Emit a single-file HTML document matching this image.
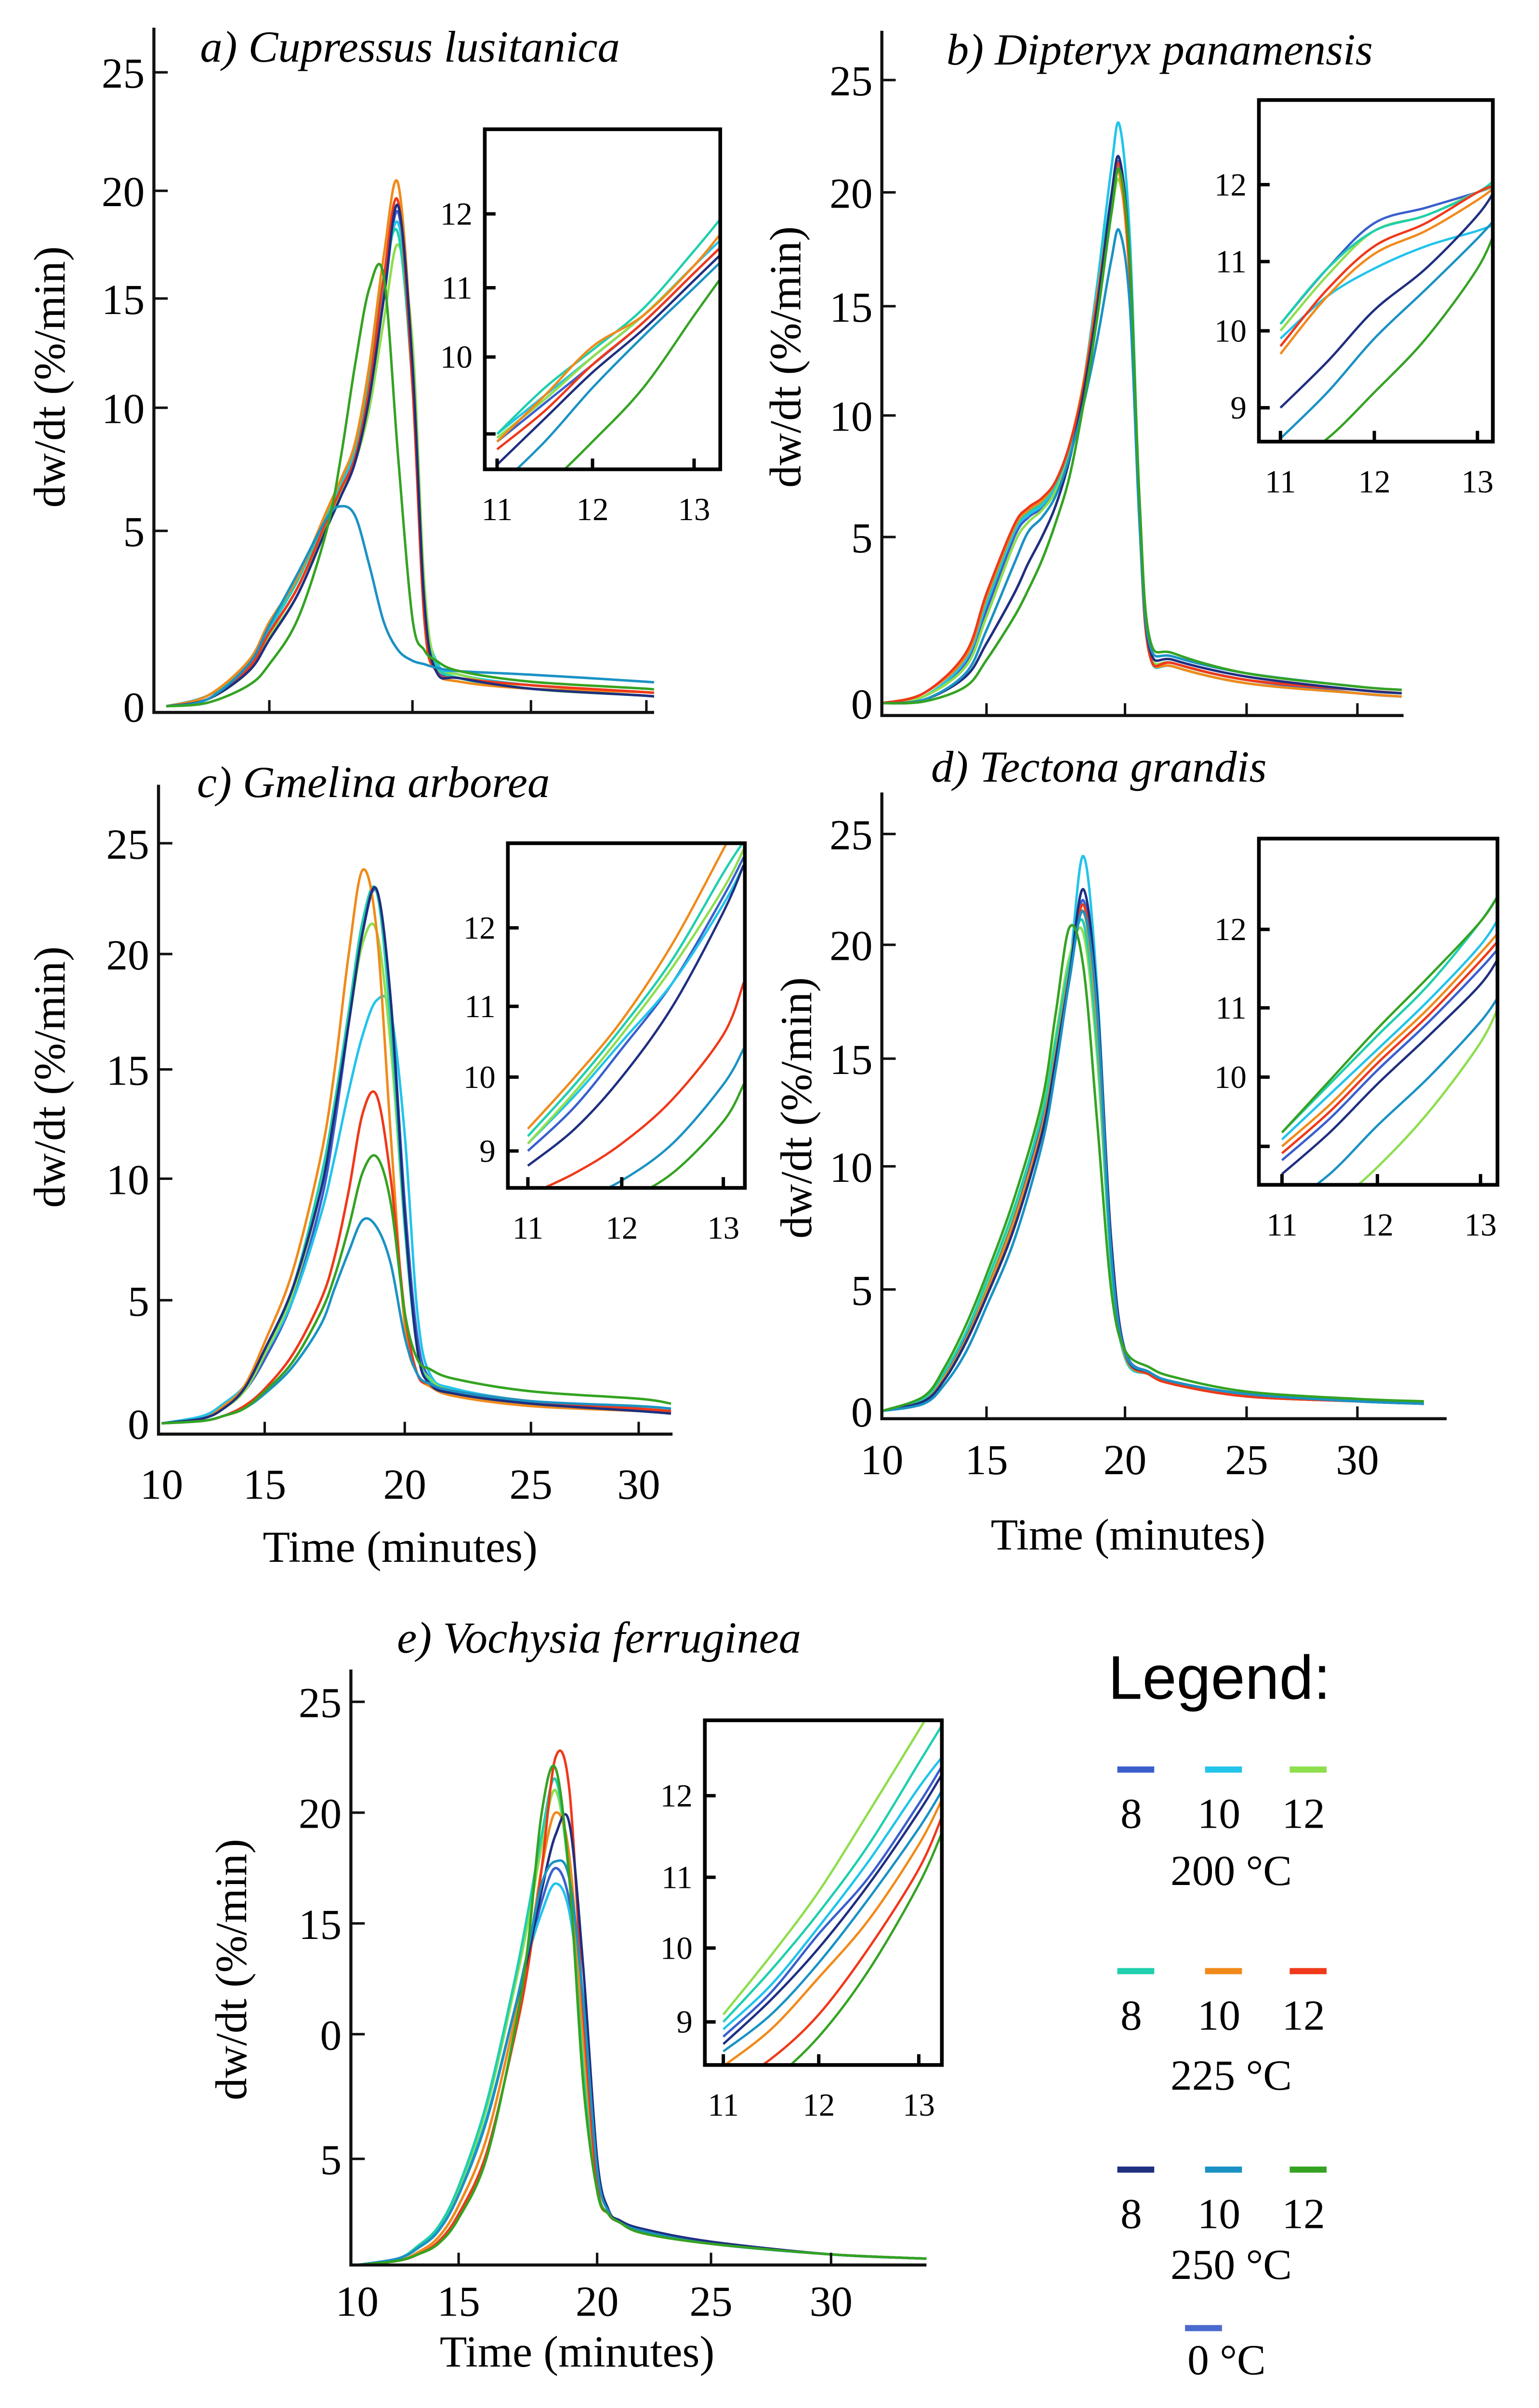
<!DOCTYPE html>
<html><head><meta charset="utf-8"><style>
html,body{margin:0;padding:0;background:#fff;width:3195px;height:5037px;overflow:hidden;}
svg{display:block;}
text{font-family:"Liberation Serif",serif;fill:#000;}
</style></head><body>
<svg id="fig" xmlns="http://www.w3.org/2000/svg" width="3195" height="5037" viewBox="0 0 1000 1576.5" preserveAspectRatio="none">
<rect width="1000" height="1576.5" fill="#fff"/>
</svg>
<script>
// ---- series metadata ----
const seriesNames = ['s8_200','s10_200','s12_200','s8_225','s10_225','s12_225','s8_250','s10_250','s12_250'];
const seriesColors = ['#3a5fcd','#22c4ea','#8ede4e','#1fcfae','#f08a1a','#f0381a','#1f2f80','#1a92c4','#34a322'];

// ---- panel a ----
const aTimes = [10,12,14,15,16,17,17.5,18,18.5,19,19.5,20,20.5,21,22,25,30,31.5];
const aSeries = [
[0,0.3,1.1,2.1,3.4,5.4,6.7,8.0,10.5,15,19,12,3,1.1,0.8,0.5,0.3,0.2],
[0,0.3,1.2,2.2,3.6,5.6,6.9,8.3,11,15.5,18.5,12.5,3.2,1.3,0.9,0.6,0.4,0.3],
[0,0.2,1.0,2.0,3.2,5.2,6.5,7.8,10,14,17.5,13,3.5,1.2,0.9,0.5,0.3,0.2],
[0,0.3,1.2,2.3,3.6,5.7,7.0,8.5,11.5,16,18,11,2.8,1.2,0.8,0.5,0.3,0.2],
[0,0.3,1.3,2.4,3.7,5.8,7.1,8.6,12,17,20.3,12,2.5,1.0,0.7,0.5,0.4,0.3],
[0,0.2,1.1,2.1,3.4,5.4,6.7,8.0,11,16,19.5,11,2.5,1.0,0.8,0.6,0.4,0.3],
[0,0.2,1.0,1.9,3.2,5.1,6.4,7.8,10.5,15,19.3,12,3,1.0,0.8,0.5,0.3,0.2],
[0,0.2,1.2,2.3,3.8,5.5,6.0,5.6,4.0,2.4,1.6,1.3,1.2,1.1,1.0,0.9,0.7,0.6],
[0,0.1,0.6,1.2,2.5,5.0,8,12,15.5,16,8,2.5,1.6,1.3,1.0,0.7,0.5,0.4]];
const aInsetTimes = [11,11.5,12,12.5,13,13.3];
const aInset = [
[8.9,9.4,9.9,10.5,11.2,11.6],[9.0,9.5,10.0,10.6,11.3,11.7],[8.95,9.45,10.0,10.6,11.3,11.8],
[9.0,9.6,10.1,10.7,11.5,12.0],[8.9,9.5,10.15,10.6,11.3,11.8],[8.8,9.3,9.9,10.5,11.2,11.6],
[8.6,9.2,9.8,10.4,11.1,11.5],[8.3,8.9,9.6,10.3,11.0,11.4],[7.8,8.3,8.9,9.6,10.6,11.2]];

// ---- panel b ----
const bTimes = [10,12,14,15,16,16.5,17,17.5,18,18.5,19,19.5,19.8,20.2,20.6,21,22,25,30,32];
const bSeries = [
[0,0.2,1.2,2.8,5.0,5.8,6.2,7,8.5,11,15,19.5,21.3,17,6,1.6,1.2,0.7,0.3,0.2],
[0,0.2,1.3,3.0,5.2,5.9,6.3,7.1,8.6,11.5,16,21,23,18,6,1.5,1.1,0.6,0.3,0.2],
[0,0.2,1.1,2.6,4.8,5.6,6.1,6.9,8.4,11,15,19,20.5,16.5,6,1.6,1.2,0.7,0.4,0.3],
[0,0.3,1.4,3.1,5.3,6.0,6.4,7.2,8.7,11.2,15.5,19.8,21,16.5,5.5,1.5,1.1,0.6,0.3,0.2],
[0,0.3,1.4,3.2,5.4,6.1,6.5,7.3,8.8,11.5,15.5,19.5,20.8,16,5.5,1.5,1.1,0.6,0.3,0.2],
[0,0.3,1.5,3.3,5.5,6.2,6.6,7.3,8.8,11.3,15.3,19.5,21.2,16.5,5.8,1.5,1.2,0.7,0.4,0.3],
[0,0.1,0.8,1.8,3.3,4.2,5.0,6.3,8.2,11,15,19.8,21.5,17,6,1.7,1.3,0.8,0.4,0.3],
[0,0.1,0.9,2.2,4.2,5.2,5.8,6.7,8.3,10.5,13.5,17,18.3,15,5.5,1.8,1.4,0.9,0.5,0.4],
[0,0.05,0.5,1.3,2.6,3.4,4.3,5.6,7.5,10.5,14.5,19,21,17,6.5,2,1.5,0.9,0.5,0.4]];
const bInsetTimes = [11,11.5,12,12.5,13,13.2];
const bInset = [
[10.1,10.9,11.5,11.7,11.9,12.0],[9.9,10.5,10.9,11.2,11.4,11.5],[10.0,10.8,11.4,11.6,11.9,12.0],
[10.1,10.9,11.4,11.6,11.9,12.1],[9.7,10.5,11.1,11.4,11.8,12.0],[9.8,10.6,11.2,11.5,11.9,12.0],
[9.0,9.6,10.3,10.9,11.6,12.0],[8.6,9.2,9.9,10.6,11.3,11.6],[8.2,8.6,9.2,9.9,10.9,11.5]];

// ---- panel c ----
const cTimes = [10,12,13,14,15,16,17,17.5,18,18.5,19,19.5,20,20.5,21,22,25,30,31.5];
const cSeries = [
[0,0.2,0.6,1.3,2.6,5,9,12.5,17,21,22.8,18,9,3.5,1.8,1.2,0.8,0.5,0.4],
[0,0.3,0.8,1.5,2.8,5,8.5,11,14,16.5,18,17.5,12,4.5,2,1.4,0.9,0.6,0.5],
[0,0.2,0.6,1.3,2.8,5.3,9.5,13,17,20.5,21,16,8,3,1.8,1.3,0.9,0.6,0.5],
[0,0.2,0.7,1.4,3.0,5.5,10,13.5,17.5,21.5,22.8,17,8,3,1.7,1.3,0.8,0.5,0.4],
[0,0.2,0.7,1.5,3.3,6.2,11,15,20,23.8,21,12,4,2,1.5,1.1,0.7,0.5,0.4],
[0,0.1,0.3,0.7,1.4,2.8,5,6.8,9.5,13,13.8,10,4.5,2,1.6,1.3,0.9,0.6,0.5],
[0,0.2,0.6,1.4,3,5.5,9.5,13,17,21,22.9,18,8.5,3,1.6,1.2,0.8,0.5,0.4],
[0,0.1,0.3,0.6,1.2,2.3,4,5.5,7,8.3,8,6.5,3.5,2,1.6,1.3,0.9,0.7,0.6],
[0,0.1,0.3,0.6,1.3,2.5,4.5,6,8,10.3,11,9,4.5,2.6,2.2,1.8,1.3,1.0,0.8]];
const cInsetTimes = [11,11.5,12,12.5,13,13.2];
const cInset = [
[9.0,9.6,10.4,11.3,12.4,12.9],[9.1,9.75,10.5,11.3,12.3,12.8],[9.1,9.8,10.6,11.5,12.5,13],
[9.2,9.9,10.7,11.6,12.7,13.1],[9.3,10.0,10.8,11.8,13.0,13.5],[8.4,8.7,9.1,9.7,10.6,11.3],
[8.8,9.3,10.0,11.0,12.2,12.8],[8.0,8.3,8.6,9.1,9.9,10.4],[7.7,8.0,8.3,8.7,9.4,9.9]];

// ---- panel d ----
const dTimes = [10,12,13,14,15,16,17,17.5,18,18.5,19,19.5,20,21,22,25,30,33];
const dSeries = [
[0,0.5,1.5,3,5,8,12,15,18.5,22,17,7,2.5,1.6,1.2,0.7,0.4,0.3],
[0,0.4,1.3,2.8,4.8,7.6,11.5,15,19,24,18,6.5,2.2,1.5,1.1,0.6,0.4,0.3],
[0,0.5,1.6,3.2,5.2,8.2,12.5,16,19.5,20.5,15,6,2.2,1.5,1.1,0.6,0.4,0.3],
[0,0.5,1.6,3.2,5.3,8.3,12.4,15.8,19.2,21,15.5,6,2.2,1.5,1.1,0.6,0.4,0.3],
[0,0.4,1.4,2.9,4.9,7.8,11.8,15.2,18.8,21.5,16.5,6.5,2.3,1.5,1.1,0.6,0.4,0.3],
[0,0.4,1.3,2.8,4.7,7.5,11.5,14.8,18.5,21.8,17,7,2.4,1.5,1.1,0.6,0.4,0.3],
[0,0.4,1.3,2.8,4.7,7.5,11.5,15,18.7,22.5,17.5,7,2.4,1.6,1.2,0.7,0.4,0.3],
[0,0.3,1.1,2.4,4.3,7,11,14.5,18.5,21.5,17,6.5,2.4,1.6,1.2,0.7,0.4,0.3],
[0,0.6,1.8,3.5,5.6,8.7,13,17,20.8,19,12,5,2.5,1.8,1.4,0.8,0.5,0.4]];
const dInsetTimes = [11,11.5,12,12.5,13,13.2];
const dInset = [
[8.8,9.4,10.1,10.8,11.5,11.8],[9.1,9.75,10.4,11.1,11.8,12.2],[7.6,8.1,8.7,9.5,10.5,11.1],
[9.2,9.9,10.6,11.3,12.1,12.5],[9.0,9.6,10.3,11.0,11.7,12.0],[8.9,9.5,10.2,10.9,11.6,11.9],
[8.6,9.2,9.9,10.6,11.3,11.7],[8.1,8.6,9.3,10.0,10.8,11.2],[9.2,9.95,10.7,11.4,12.1,12.5]];

// ---- panel e ----
const eTimes = [10,12,13,14,15,16,17,17.5,18,18.5,19,19.5,20,20.5,21,22,25,30,34];
const eSeries = [
[0,0.3,0.8,1.6,3.3,6.5,11,13.5,16,17.5,16,11,4.5,2.5,2,1.6,1,0.5,0.3],
[0,0.3,0.8,1.7,3.4,6.6,11,13.5,15.5,16.8,15.5,10.5,4.5,2.5,2,1.6,1,0.5,0.3],
[0,0.3,0.9,1.8,3.6,7,12,15,18.5,21,17,9,3.5,2.4,2,1.5,1,0.5,0.3],
[0,0.3,0.9,1.8,3.7,7.2,12.3,15.5,19,21.5,17,8.5,3.5,2.4,2,1.5,1,0.5,0.3],
[0,0.2,0.6,1.3,2.8,5.8,10.5,13.5,17.5,20,18,10,3.8,2.4,2,1.5,1,0.5,0.3],
[0,0.2,0.5,1.1,2.4,5.2,9.8,13,17.5,22.5,21,11,3.8,2.4,2,1.5,1,0.5,0.3],
[0,0.3,0.8,1.6,3.3,6.5,11,13.5,16.5,19,19.5,13,5,2.6,2.1,1.7,1.1,0.5,0.3],
[0,0.3,0.8,1.6,3.3,6.5,11,13.8,16.8,17.8,17,11.5,4.5,2.5,2,1.6,1,0.5,0.3],
[0,0.2,0.5,1.0,2.2,5.0,10,14,20,22,17,8,3.5,2.4,2,1.5,1,0.5,0.3]];
const eInsetTimes = [11,11.5,12,12.5,13,13.25];
const eInset = [
[8.8,9.4,10.2,11.0,11.9,12.4],[8.9,9.5,10.3,11.2,12.1,12.5],[9.1,9.9,10.8,11.8,12.8,13.3],
[9.0,9.7,10.5,11.4,12.4,12.9],[8.4,8.9,9.6,10.4,11.4,12.0],[8.1,8.5,9.1,10.0,11.1,11.8],
[8.7,9.3,10.0,10.9,11.8,12.3],[8.6,9.1,9.8,10.7,11.6,12.1],[7.8,8.2,8.8,9.7,10.9,11.6]];

// ---- tick label arrays ----
const mainYTicks = [0,5,10,15,20,25];
const eYTickLabels = ['','5','0','15','20','25'];
const mainXTicks = [10,15,20,25,30];
const insetXTicks = [11,12,13];
const insetYTicks = [9,10,11,12];

// ---- helpers ----
const NS='http://www.w3.org/2000/svg';
const svg=document.getElementById('fig');
function mk(tag,attrs,parent){const e=document.createElementNS(NS,tag);for(const k in attrs)e.setAttribute(k,attrs[k]);(parent||svg).appendChild(e);return e;}
function pw(vals,pix,v){
  let i=0; while(i<vals.length-2 && v>vals[i+1]) i++;
  return pix[i]+(v-vals[i])*(pix[i+1]-pix[i])/(vals[i+1]-vals[i]);
}
function smooth(pts){
  let d='M'+pts[0][0].toFixed(2)+','+pts[0][1].toFixed(2);
  for(let i=0;i<pts.length-1;i++){
    const p0=pts[Math.max(0,i-1)],p1=pts[i],p2=pts[i+1],p3=pts[Math.min(pts.length-1,i+2)];
    const c1=[p1[0]+(p2[0]-p0[0])/6,p1[1]+(p2[1]-p0[1])/6];
    const c2=[p2[0]-(p3[0]-p1[0])/6,p2[1]-(p3[1]-p1[1])/6];
    d+='C'+c1[0].toFixed(2)+','+c1[1].toFixed(2)+' '+c2[0].toFixed(2)+','+c2[1].toFixed(2)+' '+p2[0].toFixed(2)+','+p2[1].toFixed(2);
  }
  return d;
}
function txt(s,x,y,size,anchor,parent,style){const t=mk('text',{x:x,y:y,'font-size':size,'text-anchor':anchor||'start'},parent);if(style)t.setAttribute('style',style);t.textContent=s;return t;}

let clipId=0;
function panel(P){
  const g=mk('g',{});
  
  
  const yv=mainYTicks;
  const X=v=>pw(mainXTicks,P.xPix,v), Y=v=>pw(yv,P.yPix,v);
  const tt=txt(P.title,P.titleX,P.titleY,29,'start',g,'font-style:italic');
  
  
  const yt=txt('dw/dt (%/min)',0,0,29,'middle',g);
  yt.setAttribute('transform','translate('+P.yTitleX+','+P.yTitleY+') rotate(-90)');
  
  
  const cid='c'+(clipId++);
  const cp=mk('clipPath',{id:cid},g);mk('rect',{x:P.x0,y:P.top-10,width:P.x1-P.x0,height:P.bottom-P.top+10},cp);
  const sg=mk('g',{'clip-path':'url(#'+cid+')'},g);
  P.series.forEach((vals,k)=>{
    const pts=P.times.map((t,i)=>[X(t),Y(vals[i])]);
    const p=mk('path',{d:smooth(pts),fill:'none',stroke:seriesColors[k],'stroke-width':1.6,'stroke-linejoin':'round'},sg);
    
    
  });
  const ax=mk('path',{d:'M'+P.x0+','+P.top+'V'+P.bottom+'H'+P.x1,fill:'none',stroke:'#111','stroke-width':2},g);
  
  
  yv.forEach((v,i)=>{
    const y=Y(v);
    if(v>0) mk('line',{x1:P.x0,x2:P.x0+9,y1:y,y2:y,stroke:'#111','stroke-width':1.6},g);
    const lab=P.yLabels?P.yLabels[i]:String(v);
    if(lab!==''){const t=txt(lab,P.x0-6,y+10,28,'end',g);
      
      }
  });
  mainXTicks.forEach(v=>{
    const x=X(v); if(v>10) mk('line',{x1:x,x2:x,y1:P.bottom,y2:P.bottom-8,stroke:'#111','stroke-width':1.6},g);
    if(P.xLabelY){const t=txt(String(v),x,P.xLabelY,28,'middle',g);
      
      }
  });
  if(P.xTitleY){const t=txt('Time (minutes)',P.xTitleX,P.xTitleY,29,'middle',g);
    
    }
  const I=P.inset;
  const IX=v=>pw(insetXTicks,I.xPix,v), IY=v=>pw(insetYTicks,I.yPix,v);
  const ig=mk('g',{},g);
  
  
  mk('rect',{x:I.x0,y:I.y0,width:I.x1-I.x0,height:I.y1-I.y0,fill:'#fff'},ig);
  const icid='c'+(clipId++);
  const icp=mk('clipPath',{id:icid},ig);mk('rect',{x:I.x0,y:I.y0,width:I.x1-I.x0,height:I.y1-I.y0},icp);
  const isg=mk('g',{'clip-path':'url(#'+icid+')'},ig);
  I.series.forEach((vals,k)=>{
    const pts=I.times.map((t,i)=>[IX(t),IY(vals[i])]);
    const p=mk('path',{d:smooth(pts),fill:'none',stroke:seriesColors[k],'stroke-width':1.5},isg);
    
    
  });
  mk('rect',{x:I.x0,y:I.y0,width:I.x1-I.x0,height:I.y1-I.y0,fill:'none',stroke:'#000','stroke-width':2.4},ig);
  insetYTicks.forEach(v=>{
    const y=IY(v); if(y<I.y0||y>I.y1) return;
    mk('line',{x1:I.x0,x2:I.x0+7,y1:y,y2:y,stroke:'#000','stroke-width':2.2},ig);
    if(I.labels.indexOf(v)>=0){const t=txt(String(v),I.x0-8,y+7,21,'end',ig);
      
      }
  });
  insetXTicks.forEach(v=>{
    const x=IX(v); mk('line',{x1:x,x2:x,y1:I.y1,y2:I.y1-7,stroke:'#000','stroke-width':2.2},ig);
    const t=txt(String(v),x,I.y1+33,21,'middle',ig);
    
    
  });
}

panel({name:'panel-a-cupressus',title:'a) Cupressus lusitanica',titleX:130,titleY:40,yTitleX:42,yTitleY:245,
  x0:100,x1:425,top:18,bottom:463,xPix:[108,175,268,345,420],yPix:[459,345,265,194,124,47],
  times:aTimes,series:aSeries,
  inset:{x0:315,y0:84,x1:468,y1:305,xPix:[323,385,451],yPix:[282,232,187,139],labels:[10,11,12],times:aInsetTimes,series:aInset}});
panel({name:'panel-b-dipteryx',title:'b) Dipteryx panamensis',titleX:615,titleY:42,yTitleX:520,yTitleY:232,
  x0:573,x1:912,top:20,bottom:465,xPix:[573,641,731,810,882],yPix:[457,349,270,199,125,52],
  times:bTimes,series:bSeries,
  inset:{x0:818,y0:65,x1:970,y1:287,xPix:[832,893,960],yPix:[265,215,170,120],labels:[9,10,11,12],times:bInsetTimes,series:bInset}});
panel({name:'panel-c-gmelina',title:'c) Gmelina arborea',titleX:128,titleY:518,yTitleX:42,yTitleY:700,
  x0:103,x1:437,top:510,bottom:932,xPix:[105,172,263,345,415],yPix:[925,845,766,695,620,548],
  xLabelY:974,xTitleX:260,xTitleY:1015,
  times:cTimes,series:cSeries,
  inset:{x0:330,y0:548,x1:484,y1:772,xPix:[343,404,470],yPix:[748,700,654,603],labels:[9,10,11,12],times:cInsetTimes,series:cInset}});
panel({name:'panel-d-tectona',title:'d) Tectona grandis',titleX:605,titleY:508,yTitleX:527,yTitleY:720,
  x0:573,x1:940,top:515,bottom:922,xPix:[573,641,731,810,882],yPix:[917,838,758,688,614,542],
  xLabelY:958,xTitleX:733,xTitleY:1007,
  times:dTimes,series:dSeries,
  inset:{x0:818,y0:545,x1:973,y1:770,xPix:[833,895,962],yPix:[745,700,655,604],labels:[10,11,12],times:dInsetTimes,series:dInset}});
panel({name:'panel-e-vochysia',title:'e) Vochysia ferruginea',titleX:258,titleY:1074,yTitleX:160,yTitleY:1280,
  x0:228,x1:602,top:1085,bottom:1472,xPix:[232,298,388,462,540],yPix:[1472,1403,1322,1250,1178,1106],yLabels:eYTickLabels,
  xLabelY:1505,xTitleX:375,xTitleY:1538,
  times:eTimes,series:eSeries,
  inset:{x0:458,y0:1118,x1:612,y1:1342,xPix:[470,532,597],yPix:[1314,1266,1220,1167],labels:[9,10,11,12],times:eInsetTimes,series:eInset}});

// ---- legend ----
const legendRows = [
  {y:1150, colors:[0,1,2], label:'200 °C', ly:1225},
  {y:1281, colors:[3,4,5], label:'225 °C', ly:1358},
  {y:1410, colors:[6,7,8], label:'250 °C', ly:1481}];
const lg=mk('g',{});


const lt=txt('Legend:',720,1104,40,'start',lg,'font-family:"Liberation Sans",sans-serif');


const legX=[738,795,850], legLab=['8','10','12'];
legendRows.forEach(r=>{
  r.colors.forEach((c,j)=>{
    const l=mk('line',{x1:legX[j]-12,x2:legX[j]+12,y1:r.y,y2:r.y,stroke:seriesColors[c],'stroke-width':4},lg);
    
    
    const t=txt(legLab[j],legX[j]-3,r.y+38,28,'middle',lg);
    
    
  });
  const t=txt(r.label,800,r.ly,28,'middle',lg);
  
  
});
const l0=mk('line',{x1:770,x2:794,y1:1513,y2:1513,stroke:'#4a6ad0','stroke-width':4},lg);


const t0=txt('0 °C',797,1543,28,'middle',lg);


</script>
</body></html>
